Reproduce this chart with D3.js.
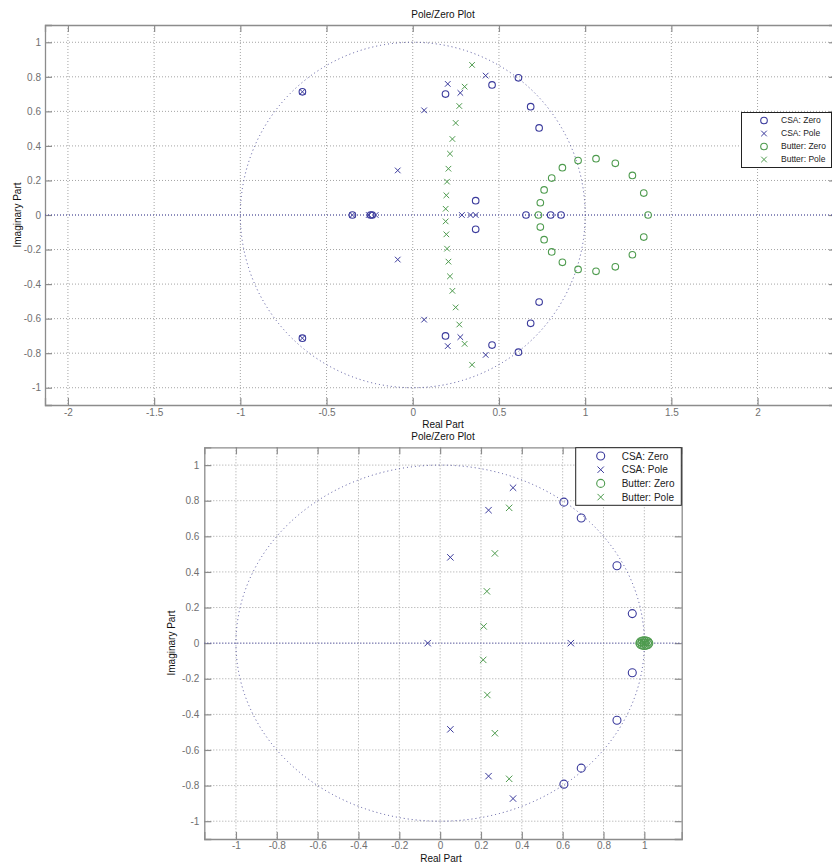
<!DOCTYPE html>
<html>
<head>
<meta charset="utf-8">
<script src="https://cdn.jsdelivr.net/npm/d3@7/dist/d3.min.js"></script>
<style>
  html, body { margin: 0; padding: 0; background: #ffffff; }
  svg { display: block; }
  text { font-family: "Liberation Sans", Arial, sans-serif; }
</style>
</head>
<body>
<svg id="chart" width="832" height="863"></svg>
<script>
// ---- Upper plot: z-plane of the CSA design vs. Butterworth design ----
const upperCsaZeros = [
  [-0.64, 0.713], [-0.64, -0.713], [-0.35, 0], [-0.245, 0], [-0.235, 0],
  [0.19, 0.70], [0.19, -0.70], [0.46, 0.753], [0.46, -0.753],
  [0.613, 0.794], [0.613, -0.794], [0.684, 0.627], [0.684, -0.627],
  [0.733, 0.504], [0.733, -0.504], [0.365, 0.083], [0.365, -0.083],
  [0.657, 0], [0.80, 0], [0.86, 0]
];
const upperCsaPoles = [
  [-0.64, 0.713], [-0.64, -0.713], [-0.35, 0], [-0.255, 0], [-0.215, 0],
  [-0.087, 0.258], [-0.087, -0.258], [0.066, 0.606], [0.066, -0.606],
  [0.203, 0.759], [0.203, -0.759], [0.276, 0.707], [0.276, -0.707],
  [0.423, 0.807], [0.423, -0.81], [0.285, 0], [0.335, 0], [0.365, 0]
];
const upperButterZeros = [
  [0.729, 0], [0.74, 0.071], [0.762, 0.145], [0.806, 0.214], [0.868, 0.274],
  [0.959, 0.315], [1.063, 0.326], [1.175, 0.299], [1.274, 0.229], [1.34, 0.127],
  [1.365, 0], [1.34, -0.128], [1.274, -0.23], [1.175, -0.30], [1.063, -0.326],
  [0.959, -0.315], [0.868, -0.274], [0.806, -0.214], [0.762, -0.143], [0.74, -0.07]
];
const upperButterPoles = [
  [0.344, 0.869], [0.301, 0.743], [0.27, 0.631], [0.249, 0.533], [0.23, 0.44],
  [0.216, 0.355], [0.207, 0.268], [0.199, 0.193], [0.195, 0.114], [0.191, 0.036],
  [0.191, -0.037], [0.195, -0.112], [0.199, -0.195], [0.207, -0.27], [0.216, -0.355],
  [0.23, -0.439], [0.249, -0.535], [0.27, -0.634], [0.301, -0.746], [0.344, -0.867]
];
const upperXTicks = [-2, -1.5, -1, -0.5, 0, 0.5, 1, 1.5, 2];
const upperYTicks = [-1, -0.8, -0.6, -0.4, -0.2, 0, 0.2, 0.4, 0.6, 0.8, 1];

// ---- Lower plot ----
const lowerCsaZeros = [
  [0.606, 0.792], [0.691, 0.703], [0.866, 0.435], [0.941, 0.166],
  [0.941, -0.166], [0.866, -0.433], [0.691, -0.702], [0.606, -0.792]
];
const lowerCsaPoles = [
  [-0.061, 0], [0.05, 0.482], [0.05, -0.484], [0.237, 0.747], [0.237, -0.747],
  [0.357, 0.873], [0.357, -0.873], [0.64, 0]
];
const lowerButterZeros = [
  [1.0, 0], [1.022, 0], [1.018, 0.008], [1.009, 0.012], [1.0, 0.013], [0.991, 0.012],
  [0.982, 0.008], [0.978, 0], [0.982, -0.008], [0.991, -0.012], [1.0, -0.013],
  [1.009, -0.012], [1.018, -0.008]
];
const lowerButterPoles = [
  [0.213, 0.094], [0.229, 0.291], [0.268, 0.504], [0.338, 0.76],
  [0.211, -0.094], [0.231, -0.291], [0.268, -0.506], [0.338, -0.762]
];
const lowerXTicks = [-1, -0.8, -0.6, -0.4, -0.2, 0, 0.2, 0.4, 0.6, 0.8, 1];
const lowerYTicks = [-1, -0.8, -0.6, -0.4, -0.2, 0, 0.2, 0.4, 0.6, 0.8, 1];

const legendLabels = ["CSA: Zero", "CSA: Pole", "Butter: Zero", "Butter: Pole"];

const BLUE = "#3a3a9c";
const GREEN = "#4e9b4e";
const GRID = "#a4a4a4";
const FRAME = "#8c8c8c";
const TICKTXT = "#707070";

const svg = d3.select("#chart");

function drawPanel(cfg) {
  const g = svg.append("g");
  const x = d3.scaleLinear().domain(cfg.xDomain).range([cfg.left, cfg.right]);
  const y = d3.scaleLinear().domain([-1.1, 1.1]).range([cfg.bottom, cfg.top]);

  const clipId = "clip-" + cfg.id;
  svg.append("clipPath").attr("id", clipId)
    .append("rect")
    .attr("x", cfg.left).attr("y", cfg.top)
    .attr("width", cfg.right - cfg.left).attr("height", cfg.bottom - cfg.top);

  // grid
  const grid = g.append("g");
  grid.selectAll("line.vx").data(cfg.xTicks).join("line")
    .attr("x1", d => x(d)).attr("x2", d => x(d))
    .attr("y1", cfg.top).attr("y2", cfg.bottom)
    .attr("stroke", GRID).attr("stroke-width", 1).attr("stroke-dasharray", "1,2");
  grid.selectAll("line.hy").data(cfg.yTicks).join("line")
    .attr("y1", d => y(d)).attr("y2", d => y(d))
    .attr("x1", cfg.left).attr("x2", cfg.right)
    .attr("stroke", GRID).attr("stroke-width", 1).attr("stroke-dasharray", "1,2");

  // frame and inner ticks via d3 axes
  const tickLen = 7;
  const bottomAxis = d3.axisBottom(x).tickValues(cfg.xTicks).tickSize(-tickLen).tickPadding(cfg.xPad).tickFormat(d => String(d));
  const topAxis = d3.axisTop(x).tickValues(cfg.xTicks).tickSize(-tickLen).tickFormat("");
  const leftAxis = d3.axisLeft(y).tickValues(cfg.yTicks).tickSize(-tickLen).tickPadding(cfg.yPad).tickFormat(d => String(d));
  const rightAxis = d3.axisRight(y).tickValues(cfg.yTicks).tickSize(-tickLen).tickFormat("");

  const styleAxis = sel => {
    sel.select(".domain").attr("stroke", FRAME).attr("stroke-width", 1.3);
    sel.selectAll(".tick line").attr("stroke", FRAME).attr("stroke-width", 1.2);
    sel.selectAll(".tick text").attr("fill", TICKTXT).attr("font-size", 10)
      .attr("font-family", "Liberation Sans, Arial, sans-serif");
  };
  g.append("g").attr("transform", `translate(0,${cfg.bottom})`).call(bottomAxis).call(styleAxis);
  g.append("g").attr("transform", `translate(${cfg.left},0)`).call(leftAxis).call(styleAxis);
  g.append("g").attr("transform", `translate(0,${cfg.top})`).call(topAxis).call(styleAxis);
  g.append("g").attr("transform", `translate(${cfg.right},0)`).call(rightAxis).call(styleAxis);

  const plot = g.append("g").attr("clip-path", `url(#${clipId})`);

  // real axis and unit circle
  plot.append("line")
    .attr("x1", cfg.left).attr("x2", cfg.right).attr("y1", y(0)).attr("y2", y(0))
    .attr("stroke", "#4a4aa8").attr("stroke-width", 1).attr("stroke-dasharray", "1,2");
  plot.append("ellipse")
    .attr("cx", x(0)).attr("cy", y(0))
    .attr("rx", x(1) - x(0)).attr("ry", y(0) - y(1))
    .attr("fill", "none").attr("stroke", "#50509a").attr("stroke-width", 1)
    .attr("stroke-dasharray", "1,3");

  const r = cfg.markerR, h = cfg.crossH;
  function zeros(data, color) {
    plot.append("g").selectAll("circle").data(data).join("circle")
      .attr("cx", d => x(d[0])).attr("cy", d => y(d[1])).attr("r", r)
      .attr("fill", "none").attr("stroke", color).attr("stroke-width", 1.1);
  }
  function poles(data, color) {
    plot.append("g").selectAll("path").data(data).join("path")
      .attr("d", d => {
        const cx = x(d[0]), cy = y(d[1]);
        return `M${cx - h},${cy - h}L${cx + h},${cy + h}M${cx - h},${cy + h}L${cx + h},${cy - h}`;
      })
      .attr("fill", "none").attr("stroke", color).attr("stroke-width", 1);
  }
  zeros(cfg.csaZeros, BLUE);
  poles(cfg.csaPoles, BLUE);
  zeros(cfg.butterZeros, GREEN);
  poles(cfg.butterPoles, GREEN);

  // legend
  const L = cfg.legend;
  const lg = g.append("g");
  lg.append("rect").attr("x", L.x).attr("y", L.y).attr("width", L.w).attr("height", L.h)
    .attr("fill", "#ffffff").attr("stroke", "#222222").attr("stroke-width", 1);
  const kinds = [["zero", BLUE], ["pole", BLUE], ["zero", GREEN], ["pole", GREEN]];
  legendLabels.forEach((lab, i) => {
    const cy = L.y + L.first + i * L.step;
    const mx = L.markerX;
    if (kinds[i][0] === "zero") {
      lg.append("circle").attr("cx", mx).attr("cy", cy).attr("r", r)
        .attr("fill", "none").attr("stroke", kinds[i][1]).attr("stroke-width", 1.1);
    } else {
      lg.append("path")
        .attr("d", `M${mx - h},${cy - h}L${mx + h},${cy + h}M${mx - h},${cy + h}L${mx + h},${cy - h}`)
        .attr("stroke", kinds[i][1]).attr("stroke-width", 1);
    }
    lg.append("text").attr("x", L.textX).attr("y", cy).attr("dy", "0.35em")
      .attr("font-size", L.font).attr("fill", "#222222").text(lab);
  });

  // titles and axis labels
  g.append("text").attr("x", cfg.titleX).attr("y", cfg.titleY).attr("text-anchor", "middle")
    .attr("font-size", 10).attr("fill", "#111").text("Pole/Zero Plot");
  g.append("text").attr("x", cfg.xlabX).attr("y", cfg.xlabY).attr("text-anchor", "middle")
    .attr("font-size", 10).attr("fill", "#111").text("Real Part");
  g.append("text")
    .attr("transform", `translate(${cfg.ylabX},${cfg.ylabY}) rotate(-90)`)
    .attr("text-anchor", "middle").attr("font-size", 10).attr("fill", "#111")
    .text("Imaginary Part");
}

drawPanel({
  id: "upper",
  left: 45, right: 836, top: 25, bottom: 405,
  xDomain: [-2.133, 2.455],
  xTicks: upperXTicks, yTicks: upperYTicks,
  xPad: 4, yPad: 4,
  csaZeros: upperCsaZeros, csaPoles: upperCsaPoles,
  butterZeros: upperButterZeros, butterPoles: upperButterPoles,
  markerR: 3.3, crossH: 2.8,
  legend: { x: 741.5, y: 112.5, w: 90, h: 55, first: 8, step: 13, markerX: 764, textX: 781, font: 8.5 },
  titleX: 443, titleY: 18,
  xlabX: 443, xlabY: 428,
  ylabX: 21, ylabY: 215
});

drawPanel({
  id: "lower",
  left: 204.3, right: 681.7, top: 447.3, bottom: 839,
  xDomain: [-1.155, 1.183],
  xTicks: lowerXTicks, yTicks: lowerYTicks,
  xPad: 3, yPad: 5,
  csaZeros: lowerCsaZeros, csaPoles: lowerCsaPoles,
  butterZeros: lowerButterZeros, butterPoles: lowerButterPoles,
  markerR: 4, crossH: 3.2,
  legend: { x: 575.7, y: 447.7, w: 105.6, h: 57.6, first: 8.3, step: 13.7, markerX: 600.7, textX: 621.7, font: 10 },
  titleX: 443, titleY: 440,
  xlabX: 441, xlabY: 862,
  ylabX: 175, ylabY: 643
});
</script>
</body>
</html>
